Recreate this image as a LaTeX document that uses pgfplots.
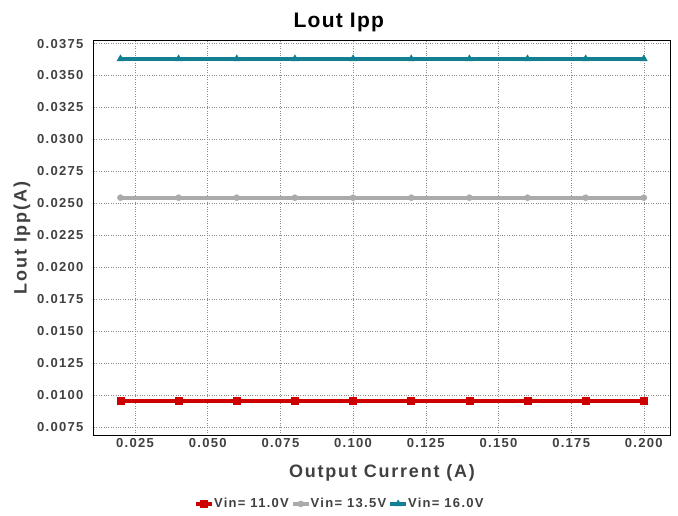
\documentclass[border=0pt]{standalone}
\usepackage{pgfplots}
\pgfplotsset{compat=1.18}
\usepackage{fontspec}
\setmainfont{Liberation Sans}
\newfontfamily\spaced{Liberation Sans}[LetterSpace=10]
\newfontfamily\titlefont{Liberation Sans}[LetterSpace=6]
\definecolor{cred}{RGB}{204,0,0}
\definecolor{cgray}{RGB}{170,170,170}
\definecolor{cteal}{RGB}{18,128,145}
\definecolor{ctext}{RGB}{64,64,64}
\begin{document}
\begin{tikzpicture}
\useasboundingbox (0,0) rectangle (678pt,515pt);
\begin{axis}[
    at={(94pt,80pt)}, anchor=south west,
    scale only axis,
    width=576pt, height=394pt,
    xmin=0.0109, xmax=0.209,
    ymin=0.00687, ymax=0.0377,
    xtick={0.025,0.05,...,0.2},
    ytick={0.0075,0.01,...,0.0375},
    scaled ticks=false,
    xticklabel style={/pgf/number format/.cd,fixed,fixed zerofill,precision=3},
    yticklabel style={xshift=-7pt,/pgf/number format/.cd,fixed,fixed zerofill,precision=4},
    /pgf/number format/assume math mode=true,
    tick label style={font=\spaced\fontsize{13}{15}\selectfont\bfseries, text=ctext},
    major tick length=0pt,
    grid=major,
    major grid style={dotted, black!45, line width=0.5pt},
    axis line style={line width=1pt},
    title={Lout Ipp},
    title style={font=\titlefont\fontsize{21}{24}\selectfont\bfseries, at={(0.425,1)}, anchor=south, yshift=0pt},
    xlabel={Output Current (A)},
    ylabel={Lout Ipp(A)},
    label style={font=\spaced\fontsize{18}{22}\selectfont\bfseries, text=ctext},
    xlabel style={at={(0.5,0)}, anchor=center, yshift=-38pt},
    ylabel style={at={(0,0.5)}, anchor=center, rotate=0, yshift=72pt},
    legend columns=3,
    legend style={at={(0.427,-0.175)}, anchor=center, draw=none, fill=none,
        font=\spaced\fontsize{13}{15}\selectfont\bfseries, text=ctext,
        /tikz/every even column/.append style={column sep=0pt},
        /tikz/every odd column/.append style={column sep=-2pt}},
    legend image code/.code={
        \draw[#1] (0pt,0pt) -- (16pt,0pt);
        \draw[#1, only marks] plot coordinates {(8pt,0pt)};
    },
]
\addplot[cred, line width=3.8pt, mark=square*, mark size=3.5pt, mark options={line width=0.5pt}] coordinates {
(0.02,0.00955)(0.04,0.00955)(0.06,0.00955)(0.08,0.00955)(0.10,0.00955)
(0.12,0.00955)(0.14,0.00955)(0.16,0.00955)(0.18,0.00955)(0.20,0.00955)};
\addlegendentry{Vin= 11.0V}
\addplot[cgray, line width=3.8pt, mark=*, mark size=3pt, mark options={line width=0.5pt}] coordinates {
(0.02,0.02544)(0.04,0.02544)(0.06,0.02544)(0.08,0.02544)(0.10,0.02544)
(0.12,0.02544)(0.14,0.02544)(0.16,0.02544)(0.18,0.02544)(0.20,0.02544)};
\addlegendentry{Vin= 13.5V}
\addplot[cteal, line width=3.8pt, mark=triangle*, mark size=4pt, mark options={line width=0.5pt}] coordinates {
(0.02,0.0363)(0.04,0.0363)(0.06,0.0363)(0.08,0.0363)(0.10,0.0363)
(0.12,0.0363)(0.14,0.0363)(0.16,0.0363)(0.18,0.0363)(0.20,0.0363)};
\addlegendentry{Vin= 16.0V}
\end{axis}
\end{tikzpicture}
\end{document}
